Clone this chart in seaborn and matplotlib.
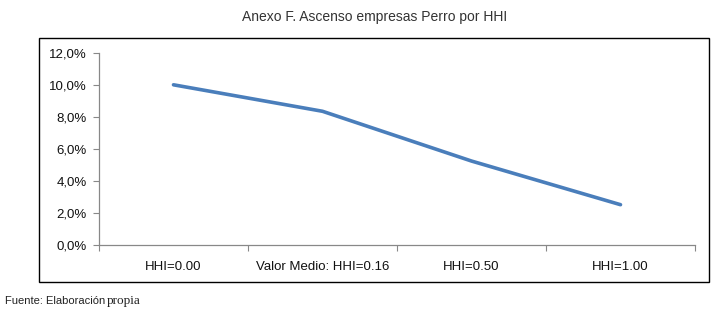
import matplotlib
matplotlib.use("Agg")
import matplotlib.pyplot as plt
import seaborn as sns
import pandas as pd
from matplotlib.patches import Rectangle
from matplotlib.ticker import FuncFormatter, FixedLocator

categories = ["HHI=0.00", "Valor Medio: HHI=0.16", "HHI=0.50", "HHI=1.00"]
values = [10.0, 8.35, 5.25, 2.53]
yticks = [0, 2, 4, 6, 8, 10, 12]

sns.set_theme(style="white")
plt.rcParams['font.family'] = ['Liberation Sans', 'DejaVu Sans']

df = pd.DataFrame({"cat": categories, "val": values})

fig = plt.figure(figsize=(7.18, 3.14), dpi=100)
fig.patch.set_facecolor("white")
W, H = 718, 314
# outer frame
fig.patches.append(Rectangle((39 / W, 1 - 282 / H), (709 - 39) / W, (282 - 38) / H,
                             transform=fig.transFigure, fill=False,
                             edgecolor="black", linewidth=1.0))

ax = fig.add_axes([99 / W, 1 - 245.3 / H, (695 - 99) / W, (245.3 - 52.7) / H])
sns.lineplot(data=df, x="cat", y="val", ax=ax, color="#4a7ebb", linewidth=2.6,
             sort=False)
ax.set_xlim(-0.5, len(categories) - 0.5)
ax.set_ylim(0, 12)
ax.set_yticks(yticks)
ax.yaxis.set_major_formatter(FuncFormatter(lambda v, p: f"{v:.1f}%".replace(".", ",")))
ax.set_xticks(range(len(categories)))
ax.set_xticklabels(categories)
ax.xaxis.set_minor_locator(FixedLocator([i - 0.5 for i in range(len(categories) + 1)]))
ax.tick_params(axis="x", which="major", length=0, pad=11, labelsize=9.5, labelcolor="#111111")
ax.tick_params(axis="x", which="minor", length=4, width=0.8, color="#888888", direction="out", bottom=True)
ax.tick_params(axis="y", length=4, width=0.8, color="#888888", direction="out", left=True,
               labelsize=9.5, labelcolor="#111111", pad=5)
ax.set_xlabel("")
ax.set_ylabel("")
for s in ["top", "right"]:
    ax.spines[s].set_visible(False)
for s in ["left", "bottom"]:
    ax.spines[s].set_color("#888888")
    ax.spines[s].set_linewidth(0.9)
ax.set_facecolor("white")

fig.text(375 / W, 1 - 17 / H, "Anexo F. Ascenso empresas Perro por HHI", ha="center", va="center",
         fontsize=10, color="#333333", family=["Liberation Sans"])
fig.text(5 / W, 1 - 301 / H, "Fuente: Elaboración", ha="left", va="center",
         fontsize=8, color="#222222", family=["Liberation Sans"])
fig.text(107 / W, 1 - 301 / H, "propia", ha="left", va="center",
         fontsize=9.5, color="#222222", family=["Liberation Serif"])

fig.savefig("out.png", dpi=100, facecolor="white")
